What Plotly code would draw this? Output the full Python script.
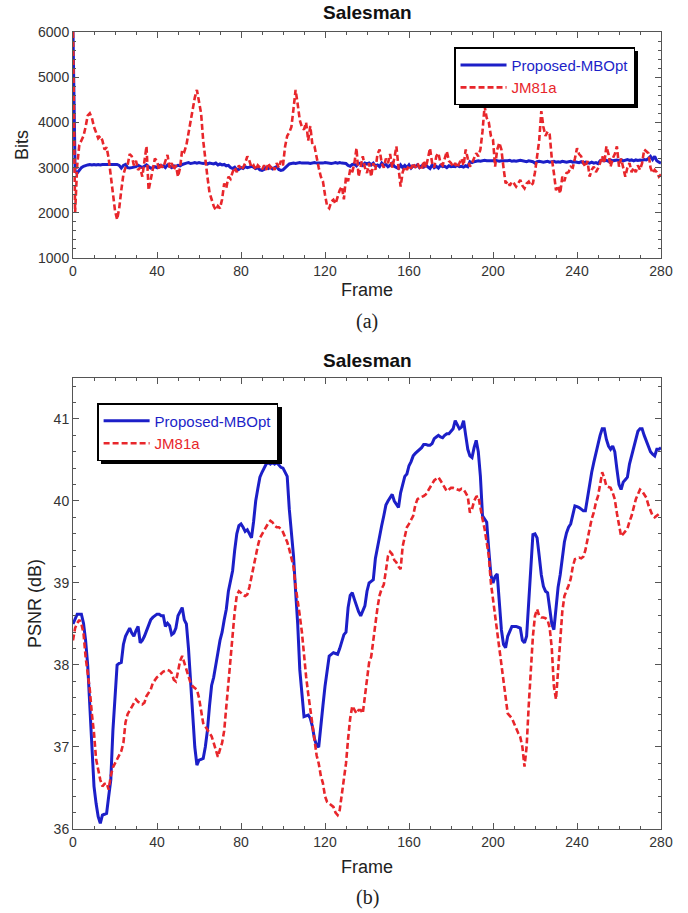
import plotly.graph_objects as go

# ---------------- data ----------------
bits_blue = [
    6000, 2920, 2880, 2950, 3000, 3030, 3050, 3060, 3070, 3060,
    3070, 3060, 3070, 3060, 3070, 3070, 3060, 3070, 3060, 3070,
    3060, 3070, 3050, 2990, 3050, 3070, 3000, 2990, 3000, 3010,
    3020, 3050, 3020, 3000, 3030, 3060, 3020, 2990, 3000, 3020,
    3000, 3050, 3030, 3040, 3000, 3060, 3030, 3000, 3040, 3030,
    3050, 3040, 3070, 3090, 3100, 3110, 3090, 3100, 3110, 3100,
    3110, 3100, 3090, 3100, 3080, 3100, 3090, 3080, 3100, 3060,
    3080, 3060, 3070, 3040, 3050, 3000, 2980, 3010, 2950, 2960,
    3000, 2980, 3020, 3000, 3010, 3030, 3010, 2980, 3000, 2950,
    2940, 2960, 3000, 2980, 3010, 2970, 3000, 3020, 2960, 2940,
    2950, 3000, 3050, 3080, 3090, 3100, 3090, 3100, 3110, 3100,
    3100, 3110, 3100, 3090, 3100, 3110, 3100, 3100, 3090, 3100,
    3110, 3100, 3100, 3090, 3100, 3110, 3100, 3110, 3100, 3100,
    3090, 3050, 3030, 3070, 3080, 3040, 3100, 3090, 3050, 3100,
    3080, 3100, 3060, 3100, 3040, 3060, 3020, 3100, 3050, 3070,
    3020, 3050, 3100, 3030, 3000, 2980, 3060, 3000, 3050, 3000,
    3060, 2990, 3040, 3020, 3060, 3000, 3040, 3010, 3050, 3020,
    2980, 3060, 3000, 3030, 2990, 3050, 3020, 3030, 3000, 3040,
    3020, 3030, 3020, 3050, 3020, 3030, 3010, 3040, 3020, 3130,
    3110, 3130, 3140, 3150, 3140, 3150, 3160, 3150, 3150, 3140,
    3150, 3160, 3150, 3140, 3150, 3150, 3140, 3150, 3160, 3140,
    3150, 3140, 3150, 3160, 3150, 3140, 3130, 3150, 3140, 3130,
    3100, 3130, 3140, 3130, 3120, 3130, 3140, 3120, 3130, 3140,
    3120, 3130, 3120, 3140, 3130, 3120, 3130, 3140, 3120, 3130,
    3120, 3110, 3130, 3100, 3120, 3110, 3100, 3120, 3100, 3110,
    3090, 3150, 3170, 3150, 3160, 3140, 3170, 3150, 3160, 3170,
    3160, 3170, 3150, 3160, 3180, 3160, 3170, 3150, 3170, 3160,
    3170, 3160, 3180, 3170, 3200, 3250, 3180, 3250, 3150, 3120,
    3100,
]

bits_red = [
    6000, 2000, 3050, 3500, 3600, 3700, 3900, 4150, 4200, 4100,
    3900, 3760, 3650, 3700, 3600, 3400, 3450, 3200, 2800, 2400,
    2050, 1850, 2100, 2500, 2850, 3000, 3050, 3300, 3250, 3050,
    3150, 2950, 3000, 2800, 3200, 3470, 2500, 2750, 3000, 3200,
    3150, 2950, 3050, 3000, 3150, 3280, 3000, 3100, 2950, 3050,
    2800, 3000, 3400, 3350, 3500, 3770, 4000, 4300, 4550, 4720,
    4500, 4200, 3600, 3150, 2800, 2450, 2300, 2150, 2060, 2150,
    2100, 2300, 2650, 2550, 2800, 2750, 2900, 3000, 2900, 3050,
    2950, 3000, 3100, 3250, 3150, 3000, 3050, 2950, 3050, 3000,
    2950, 3050, 2950, 3100, 3000, 3050, 2950, 3100, 3000, 3150,
    3050, 3470, 3700, 3780, 3900, 4300, 4720, 4400, 4050, 3900,
    3840, 4000, 3600, 3920, 3500, 3470, 3200, 3000, 2800, 2700,
    2400, 2150, 2100, 2250, 2290, 2200, 2350, 2500, 2580, 2300,
    2800, 2700, 2960, 2900, 3100, 3430, 2800, 3000, 3250, 3000,
    2880, 3100, 2800, 3100, 2950, 3300, 3400, 3100, 3000, 3200,
    3100, 3300, 3000, 3200, 3470, 3000, 2580, 2900, 3020, 2950,
    3050, 2980, 3100, 3000, 3100, 3000, 2950, 3150, 3000, 3200,
    3430, 3100, 3000, 3250, 3320, 3100, 3050, 3200, 3360, 3150,
    3100, 3020, 3100, 3000, 3100, 3200, 3050, 3400, 3200, 3020,
    3100, 3200, 3320, 3250, 3400, 3800, 4360, 4100, 4000, 3700,
    3620, 3020, 3400, 3550, 3400, 3000, 2650, 2700, 2600, 2690,
    2650, 2580, 2650, 2730, 2600, 2540, 2650, 2690, 2600, 2650,
    2900, 3320, 3600, 4250, 3900, 3700, 3800, 3730, 3200, 2880,
    2500, 2600, 2430, 2800, 2700, 2880, 2900, 3020, 3000, 3200,
    3430, 3300, 3250, 3100, 3020, 3150, 2800, 2950, 3020, 2900,
    2980, 3100, 3250, 3100, 3470, 3300, 3020, 3200, 3300, 3470,
    3020, 3200, 3000, 2800, 3000, 3100, 2900, 3000, 2900, 3050,
    2950, 3100, 3400, 3350, 3320, 3000, 2880, 2950, 2900, 2800,
    2850,
]

psnr_blue = [
    38.50, 38.55, 38.62, 38.62, 38.62, 38.51, 38.30, 38.00, 37.55, 37.00,
    36.52, 36.31, 36.15, 36.07, 36.17, 36.18, 36.19, 36.40, 36.60, 37.20,
    37.60, 38.00, 38.02, 38.03, 38.25, 38.35, 38.40, 38.45, 38.39, 38.35,
    38.42, 38.47, 38.27, 38.30, 38.35, 38.42, 38.50, 38.55, 38.58, 38.60,
    38.62, 38.62, 38.60, 38.60, 38.47, 38.51, 38.48, 38.37, 38.39, 38.45,
    38.60, 38.65, 38.70, 38.55, 38.50, 38.20, 37.80, 37.40, 37.00, 36.78,
    36.84, 36.85, 36.86, 37.00, 37.20, 37.50, 37.75, 37.85, 37.98, 38.15,
    38.30, 38.40, 38.55, 38.68, 38.90, 39.05, 39.15, 39.40, 39.60, 39.70,
    39.72, 39.68, 39.63, 39.65, 39.60, 39.55, 39.75, 40.00, 40.15, 40.29,
    40.35, 40.41, 40.45, 40.47, 40.45, 40.47, 40.45, 40.47, 40.44, 40.41,
    40.40, 40.35, 40.30, 39.90, 39.60, 39.33, 38.90, 38.50, 37.94, 37.60,
    37.37, 37.38, 37.39, 37.35, 37.25, 37.10, 37.02, 37.00, 37.30, 37.50,
    37.74, 37.90, 38.11, 38.13, 38.15, 38.14, 38.13, 38.20, 38.30, 38.37,
    38.40, 38.70, 38.85, 38.88, 38.80, 38.72, 38.65, 38.60, 38.65, 38.72,
    38.90, 39.00, 39.02, 39.04, 39.30, 39.45, 39.55, 39.70, 39.82, 39.95,
    40.00, 40.04, 40.08, 40.00, 39.95, 39.92, 40.10, 40.20, 40.30, 40.33,
    40.43, 40.48, 40.55, 40.58, 40.60, 40.63, 40.65, 40.69, 40.69, 40.68,
    40.68, 40.70, 40.76, 40.78, 40.80, 40.78, 40.77, 40.80, 40.82, 40.82,
    40.85, 40.88, 40.98, 40.92, 40.88, 40.90, 40.98, 40.80, 40.63, 40.55,
    40.53, 40.65, 40.74, 40.60, 40.30, 39.82, 39.78, 39.74, 39.40, 39.10,
    39.00, 39.08, 39.11, 38.70, 38.43, 38.25, 38.21, 38.35, 38.42, 38.47,
    38.47, 38.47, 38.46, 38.45, 38.30, 38.27, 38.35, 38.80, 39.30, 39.59,
    39.60, 39.55, 39.33, 39.10, 38.96, 38.90, 38.88, 38.68, 38.50, 38.43,
    38.70, 38.95, 39.10, 39.30, 39.50, 39.61, 39.68, 39.72, 39.85, 39.94,
    39.93, 39.92, 39.90, 39.88, 39.88, 40.05, 40.18, 40.35, 40.47, 40.60,
    40.69, 40.80, 40.88, 40.88, 40.75, 40.67, 40.63, 40.67, 40.60, 40.39,
    40.20, 40.14, 40.23, 40.26, 40.29, 40.45, 40.55, 40.65, 40.75, 40.85,
    40.88, 40.88, 40.80, 40.74, 40.68, 40.60, 40.57, 40.55, 40.63, 40.63,
    40.65,
]

psnr_red = [
    38.30, 38.45, 38.51, 38.55, 38.50, 38.39, 38.10, 37.90, 37.70, 37.40,
    37.17, 36.85, 36.70, 36.60, 36.52, 36.55, 36.56, 36.48, 36.65, 36.75,
    36.80, 36.85, 36.88, 36.95, 37.05, 37.30, 37.40, 37.45, 37.50, 37.55,
    37.58, 37.55, 37.54, 37.52, 37.54, 37.62, 37.66, 37.70, 37.78, 37.82,
    37.85, 37.87, 37.90, 37.92, 37.93, 37.94, 37.93, 37.90, 37.82, 37.80,
    37.92, 38.05, 38.11, 38.03, 37.95, 37.86, 37.78, 37.74, 37.72, 37.70,
    37.60, 37.45, 37.29, 37.25, 37.21, 37.18, 37.13, 37.05, 36.95, 36.88,
    36.97, 37.05, 37.20, 37.50, 37.80, 38.10, 38.40, 38.65, 38.85, 38.90,
    38.88, 38.85, 38.84, 38.86, 38.95, 39.08, 39.20, 39.35, 39.45, 39.55,
    39.60, 39.65, 39.70, 39.73, 39.76, 39.74, 39.70, 39.68, 39.68, 39.66,
    39.62, 39.57, 39.50, 39.41, 39.30, 39.20, 38.96, 38.80, 38.60, 38.40,
    38.10, 37.86, 37.65, 37.45, 37.29, 37.10, 36.90, 36.80, 36.65, 36.56,
    36.40, 36.33, 36.31, 36.30, 36.27, 36.20, 36.17, 36.23, 36.40, 36.60,
    36.80, 37.10, 37.35, 37.50, 37.45, 37.41, 37.45, 37.45, 37.41, 37.60,
    37.80, 38.03, 38.10, 38.27, 38.50, 38.70, 38.85, 38.93, 38.98, 39.15,
    39.33, 39.38, 39.35, 39.28, 39.25, 39.20, 39.17, 39.45, 39.55, 39.68,
    39.72, 39.78, 39.82, 39.95, 40.02, 40.04, 40.05, 40.06, 40.08, 40.12,
    40.16, 40.20, 40.25, 40.27, 40.29, 40.25, 40.20, 40.15, 40.12, 40.14,
    40.16, 40.16, 40.15, 40.14, 40.13, 40.15, 40.14, 40.10, 40.05, 39.86,
    39.90, 40.00, 40.05, 40.06, 39.90, 39.78, 39.66, 39.50, 39.33, 39.00,
    38.80, 38.60, 38.40, 38.20, 38.00, 37.80, 37.60, 37.41, 37.38, 37.35,
    37.29, 37.22, 37.17, 37.12, 37.00, 36.76, 37.00, 37.50, 38.00, 38.35,
    38.60, 38.68, 38.60, 38.58, 38.58, 38.57, 38.55, 38.45, 38.20, 37.74,
    37.58, 37.94, 38.40, 38.65, 38.84, 38.90, 38.97, 39.05, 39.20, 39.29,
    39.30, 39.31, 39.30, 39.32, 39.40, 39.55, 39.66, 39.78, 39.86, 39.98,
    40.06, 40.20, 40.35, 40.28, 40.18, 40.17, 40.16, 40.10, 40.02, 39.85,
    39.70, 39.57, 39.60, 39.63, 39.66, 39.75, 39.82, 39.92, 40.02, 40.08,
    40.14, 40.12, 40.08, 40.04, 39.95, 39.88, 39.82, 39.80, 39.82, 39.85,
    39.86,
]

series_names = ["Proposed-MBOpt", "JM81a"]
chart_title = "Salesman"
x_ticks = [0, 40, 80, 120, 160, 200, 240, 280]

# ---------------- style ----------------
BLUE = "#1c1fc8"
RED = "#e8262b"
FONT = "Liberation Sans, Arial, sans-serif"
AXC = "#555555"
TXT = "#333333"


def legend_name(name, color):
    return f"<span style='color:{color}'>{name}</span>"


fig = go.Figure()

fig.add_trace(go.Scatter(x=list(range(len(bits_blue))), y=bits_blue, mode="lines",
                         name=legend_name(series_names[0], BLUE),
                         line=dict(color=BLUE, width=3), xaxis="x", yaxis="y",
                         legend="legend"))
fig.add_trace(go.Scatter(x=list(range(len(bits_red))), y=bits_red, mode="lines",
                         name=legend_name(series_names[1], RED),
                         line=dict(color=RED, width=2.6, dash="6px,3px"), xaxis="x", yaxis="y",
                         legend="legend"))
fig.add_trace(go.Scatter(x=list(range(len(psnr_blue))), y=psnr_blue, mode="lines",
                         name=legend_name(series_names[0], BLUE),
                         line=dict(color=BLUE, width=3), xaxis="x2", yaxis="y2",
                         legend="legend2"))
fig.add_trace(go.Scatter(x=list(range(len(psnr_red))), y=psnr_red, mode="lines",
                         name=legend_name(series_names[1], RED),
                         line=dict(color=RED, width=2.6, dash="6px,3px"), xaxis="x2", yaxis="y2",
                         legend="legend2"))

axis_common = dict(
    showline=True, linecolor=AXC, linewidth=1, mirror="ticks",
    ticks="inside", ticklen=6, tickcolor=AXC, tickwidth=1,
    showgrid=False, zeroline=False,
    tickfont=dict(family=FONT, size=14, color=TXT),
    title_font=dict(family=FONT, size=18, color="#222222"),
)

x_common = dict(axis_common, range=[0, 280], tickvals=x_ticks,
                minor=dict(dtick=10, tick0=0, ticks="inside", ticklen=3, tickcolor=AXC))

legend_common = dict(bgcolor="white", bordercolor="black", borderwidth=1.5,
                     font=dict(family=FONT, size=15, color=TXT),
                     xanchor="left", yanchor="top", tracegroupgap=0,
                     itemwidth=46)

fig.update_layout(
    width=688, height=913, autosize=False,
    margin=dict(l=73, r=27, t=32, b=84),
    paper_bgcolor="white", plot_bgcolor="white",
    showlegend=True,
    xaxis=dict(x_common, anchor="y", domain=[0, 1],
               title=dict(text="Frame", standoff=5)),
    yaxis=dict(axis_common, anchor="x", domain=[0.7164, 1.0], range=[1000, 6000], dtick=1000,
               minor=dict(dtick=200, ticks="inside", ticklen=3, tickcolor=AXC),
               title=dict(text="Bits", standoff=4)),
    xaxis2=dict(x_common, anchor="y2", domain=[0, 1],
                title=dict(text="Frame", standoff=11)),
    yaxis2=dict(axis_common, anchor="x2", domain=[0, 0.5659], range=[36, 41.5], dtick=1,
                minor=dict(dtick=0.2, ticks="inside", ticklen=3, tickcolor=AXC),
                title=dict(text="PSNR (dB)", standoff=7)),
    legend=dict(legend_common, x=0.648, y=0.981),
    legend2=dict(legend_common, x=0.041, y=0.5345),
)

# titles and panel labels
fig.add_annotation(text="<b>" + chart_title + "</b>", xref="paper", yref="paper",
                   x=0.5, y=(829 - 12) / 797, xanchor="center", yanchor="middle",
                   showarrow=False, font=dict(family=FONT, size=19, color="#111111"))
fig.add_annotation(text="<b>" + chart_title + "</b>", xref="paper", yref="paper",
                   x=0.5, y=(829 - 360) / 797, xanchor="center", yanchor="middle",
                   showarrow=False, font=dict(family=FONT, size=19, color="#111111"))
fig.add_annotation(text="(a)", xref="paper", yref="paper",
                   x=0.5, y=(829 - 321) / 797, xanchor="center", yanchor="middle",
                   showarrow=False, font=dict(family="Liberation Serif, Times New Roman, serif",
                                              size=20, color="#222222"))
fig.add_annotation(text="(b)", xref="paper", yref="paper",
                   x=0.5, y=(829 - 897) / 797, xanchor="center", yanchor="middle",
                   showarrow=False, font=dict(family="Liberation Serif, Times New Roman, serif",
                                              size=20, color="#222222"))

# legend drop shadows (pixel boxes of the rendered legends)
def px_x(p):
    return (p - 73) / 588


def px_y(p):
    return (829 - p) / 797


for (l, t, r, b) in [(455, 47, 634, 104), (97, 403, 278, 460)]:
    fig.add_shape(type="rect", xref="paper", yref="paper",
                  x0=px_x(l + 4), x1=px_x(r + 4), y0=px_y(b + 4), y1=px_y(t + 4),
                  fillcolor="black", line=dict(width=0), layer="above")

fig.write_html("out.html")
